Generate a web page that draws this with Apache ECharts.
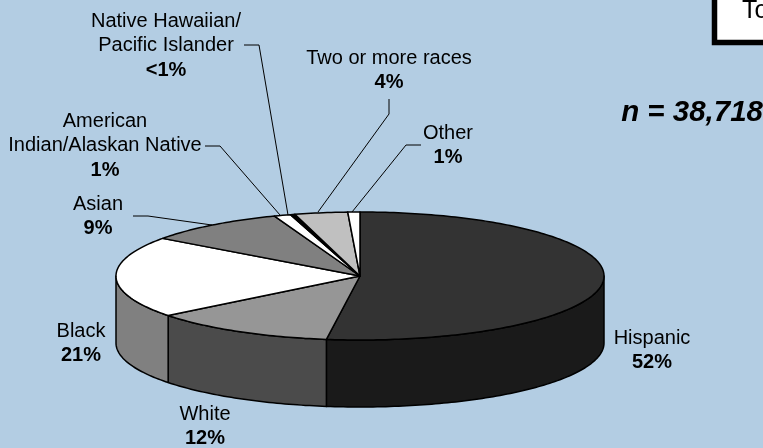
<!DOCTYPE html>
<html><head><meta charset="utf-8">
<style>html,body{margin:0;padding:0;background:#b3cde3}#c{width:763px;height:448px}</style>
<script src="https://cdn.jsdelivr.net/npm/echarts@6/dist/echarts.min.js"></script>
</head><body><div id="c"></div>
<script>
var categories = ["Hispanic","White","Black","Asian","American\nIndian/Alaskan Native","Native Hawaiian/\nPacific Islander","Two or more races","Other"];
var shares = [52.2,12.2,20.6,9.3,1.1,0.3,3.5,0.8];
var pctLabels = ["52%","12%","21%","9%","1%","<1%","4%","1%"];
var topColors = ["#333333","#969696","#ffffff","#808080","#ffffff","#000000","#c0c0c0","#ffffff"];
var sideColors = ["#1a1a1a","#4b4b4b","#808080","#404040","#808080","#000000","#606060","#808080"];
var labelCentres = [[652,338],[205,414],[81,331],[98,204],[105,121],[166,21],[389,58],[448,133]];
var leaders = [null,null,null,
  [[133,216],[148,216],[212,225]],
  [[205,146],[220,146],[280,215]],
  [[244,45],[259,45],[288,215]],
  [[389,99],[389,114],[318,212]],
  [[421,145],[406,145],[352,212]]];
var CX=360,CY=276,RX=244,RY=64,DEPTH=67,FONT=20,LH=24.7;
var total=shares.reduce(function(a,b){return a+b;},0);
var cum=[];shares.reduce(function(a,v,i){cum[i]=a;return a+v;},0);
function pt(deg,dy){var r=deg*Math.PI/180;return [CX+RX*Math.sin(r),CY-RY*Math.cos(r)+(dy||0)];}
function arc(a,b,dy){var n=Math.max(2,Math.ceil(Math.abs(b-a)));var o=[];for(var i=0;i<=n;i++)o.push(pt(a+(b-a)*i/n,dy));return o;}
function renderItem(params,api){
  var v=api.value(1),c=api.value(2);
  var a=c/total*360,b=(c+v)/total*360;
  var kids=[];
  var s=Math.max(a,90),e=Math.min(b,270);
  if(e>s){
    var top=arc(s,e,0),bot=arc(e,s,DEPTH);
    kids.push({type:'polygon',shape:{points:top.concat(bot)},style:{fill:sideColors[params.dataIndex],stroke:'#000',lineWidth:1.5,lineJoin:'round'}});
  }
  var pts=[[CX,CY]].concat(arc(a,b,0));
  kids.push({type:'polygon',z2:10,shape:{points:pts},style:{fill:topColors[params.dataIndex],stroke:'#000',lineWidth:1.5,lineJoin:'round'}});
  return {type:'group',children:kids};
}
var graphics=[];
categories.forEach(function(n,i){
  var lines=n.split("\n");
  var y=labelCentres[i][1];
  lines.forEach(function(l){
    graphics.push({type:'text',x:labelCentres[i][0],y:y,style:{text:l,fill:'#000',font:FONT+'px "Liberation Sans"',align:'center',verticalAlign:'middle'}});
    y+=LH;
  });
  graphics.push({type:'text',x:labelCentres[i][0],y:y,style:{text:pctLabels[i],fill:'#000',font:'bold '+FONT+'px "Liberation Sans"',align:'center',verticalAlign:'middle'}});
  if(leaders[i])graphics.push({type:'polyline',shape:{points:leaders[i]},style:{fill:null,stroke:'#000',lineWidth:1}});
});
graphics.push({type:'text',x:763,y:113,style:{text:'n = 38,718',fill:'#000',font:'italic bold 29.5px "Liberation Sans"',align:'right',verticalAlign:'middle'}});
graphics.push({type:'rect',shape:{x:714.5,y:-10,width:60,height:52.5},style:{fill:'#fff',stroke:'#000',lineWidth:5.5}});
graphics.push({type:'text',x:742,y:11,z:10,style:{text:'To',fill:'#000',font:'25px "Liberation Sans"',align:'left',verticalAlign:'middle'}});
var chart=echarts.init(document.getElementById('c'),null,{renderer:'canvas'});
chart.setOption({
  animation:false,
  backgroundColor:'#b3cde3',
  graphic:graphics,
  series:[{type:'custom',coordinateSystem:'none',renderItem:renderItem,
    data:shares.map(function(v,i){return [categories[i],v,cum[i]];}),silent:true}]
});
</script></body></html>
